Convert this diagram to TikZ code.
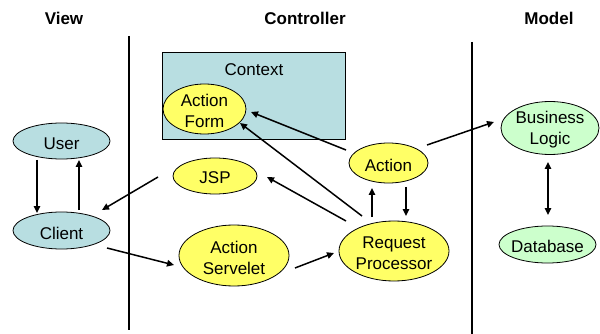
\documentclass[tikz,border=0pt]{standalone}
\usepackage{fontspec}
\setmainfont{Liberation Sans}
\usetikzlibrary{shapes.geometric,arrows.meta}
\definecolor{ctxblue}{HTML}{B8DEE1}
\definecolor{ellyellow}{HTML}{FFFF66}
\definecolor{ellgreen}{HTML}{CCFFCC}
\begin{document}
\begin{tikzpicture}[x=1pt,y=-1pt,
  lbl/.style={font=\fontsize{17}{21}\selectfont, align=center, inner sep=0pt},
  title/.style={font=\fontsize{17}{20}\selectfont\bfseries, inner sep=0pt},
  ell/.style={ellipse, draw=black, line width=0.8pt, inner sep=0pt},
  blueell/.style={ell, fill=ctxblue},
  yellell/.style={ell, fill=ellyellow},
  greenell/.style={ell, fill=ellgreen},
  conn/.style={line width=1.5pt, -{Triangle[length=7pt,width=6.5pt]}},
  bothconn/.style={line width=1.5pt, {Triangle[length=7pt,width=6.5pt]}-{Triangle[length=7pt,width=6.5pt]}},
  bar/.style={line width=2.6pt}
]
\useasboundingbox (0,0) rectangle (600,334);
% titles
\node[title] (tview) at (64,18) {View};
\node[title] (tctrl) at (305,18) {Controller};
\node[title] (tmodel) at (549,18) {Model};
% separators
\draw[bar] (129,36) -- (129,330);
\draw[bar] (472,42) -- (472,334);
% context
\node[draw=black, line width=0.8pt, fill=ctxblue, minimum width=183pt, minimum height=87pt, inner sep=0pt] (context) at (253.5,95.5) {};
\node[lbl] (contextlbl) at (254,69.5) {Context};
% nodes
\node[yellell, minimum width=83pt, minimum height=50pt] (actionform) at (204.5,109) {};
\node[blueell, minimum width=97pt, minimum height=36pt] (user) at (61.5,141) {};
\node[blueell, minimum width=97pt, minimum height=37pt] (client) at (61.5,230.5) {};
\node[yellell, minimum width=84pt, minimum height=36pt] (jsp) at (215,176) {};
\node[yellell, minimum width=110pt, minimum height=61pt] (servlet) at (234,255.5) {};
\node[yellell, minimum width=79pt, minimum height=40pt] (action) at (388.5,163) {};
\node[yellell, minimum width=110pt, minimum height=60pt] (rp) at (394,251) {};
\node[greenell, minimum width=98pt, minimum height=53pt] (bl) at (550,128) {};
\node[greenell, minimum width=97pt, minimum height=37pt] (db) at (547.5,244.5) {};
% texts
\node[lbl] (actionformtext) at ([shift={(0,2)}]actionform.center) {Action\\Form};
\node[lbl] (usertext) at ([shift={(0,2.5)}]user.center) {User};
\node[lbl] (clienttext) at ([shift={(0,2.5)}]client.center) {Client};
\node[lbl] (jsptext) at ([shift={(0,2)}]jsp.center) {JSP};
\node[lbl] (servlettext) at ([shift={(0,2.5)}]servlet.center) {Action\\Servelet};
\node[lbl] (actiontext) at ([shift={(0,2)}]action.center) {Action};
\node[lbl] (rptext) at ([shift={(0,2)}]rp.center) {Request\\Processor};
\node[lbl] (bltext) at ([shift={(0,2)}]bl.center) {Business\\Logic};
\node[lbl] (dbtext) at ([shift={(0,2)}]db.center) {Database};
% connectors
\draw[conn] ([shift={(-24.5,19)}]user.center) -- ([shift={(-24.5,-17.5)}]client.center);
\draw[conn] ([shift={(17.5,-20.5)}]client.center) -- ([shift={(17.5,19)}]user.center);
\draw[conn] ([shift={(-57,1)}]jsp.center) -- ([shift={(40.5,-20.5)}]client.center);
\draw[conn] ([shift={(45.5,17.5)}]client.center) -- ([shift={(-60,9.5)}]servlet.center);
\draw[conn] ([shift={(61,12.5)}]servlet.center) -- ([shift={(-60,2)}]rp.center);
\draw[conn] ([shift={(-48,-30)}]rp.center) -- ([shift={(52,1)}]jsp.center);
\draw[conn] ([shift={(-32,-35)}]rp.center) -- ([shift={(35.5,14)}]actionform.center);
\draw[conn] ([shift={(-42.5,-13)}]action.center) -- ([shift={(46.5,3)}]actionform.center);
\draw[conn] ([shift={(-22,-34)}]rp.center) -- ([shift={(-16.5,25)}]action.center);
\draw[conn] ([shift={(17.5,24)}]action.center) -- ([shift={(12,-35)}]rp.center);
\draw[conn] ([shift={(38.5,-18)}]action.center) -- ([shift={(-56,-6)}]bl.center);
\draw[bothconn] ([shift={(-2,34)}]bl.center) -- ([shift={(0.5,-29.5)}]db.center);
\end{tikzpicture}
\end{document}
